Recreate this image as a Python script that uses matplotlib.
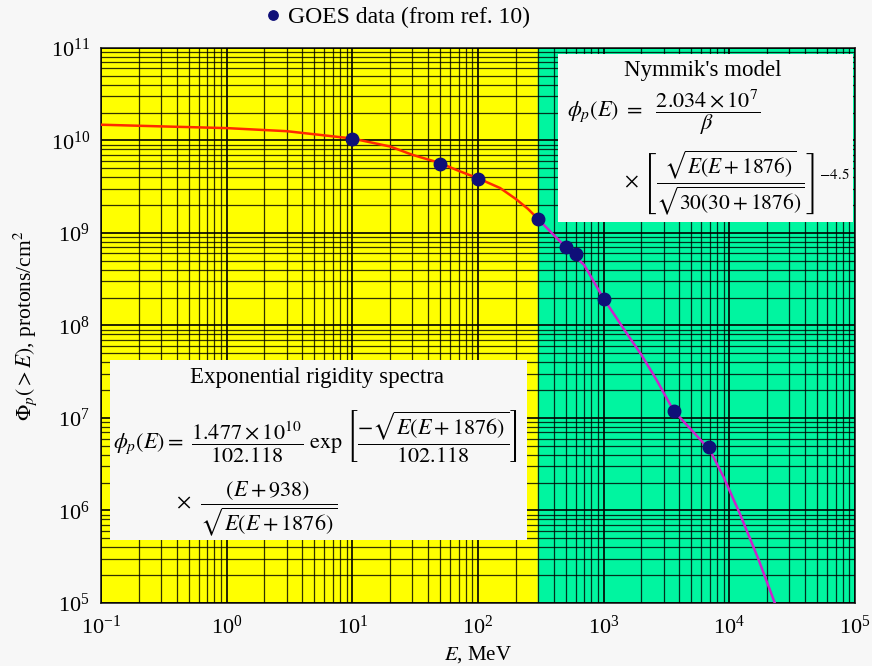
import matplotlib.pyplot as plt
from matplotlib.patches import Rectangle

plt.rcParams['font.family'] = ['Liberation Serif', 'DejaVu Serif']
plt.rcParams['mathtext.fontset'] = 'stix'

# GOES data points
goes_E = [10, 50, 100, 300, 500, 600, 1000, 3600, 6900]
goes_flux = [1.04e10, 5.6e9, 3.8e9, 1.42e9, 7.1e8, 5.9e8, 1.93e8, 1.19e7, 4.85e6]

# exponential rigidity spectrum curve (E < 300 MeV)
exp_E = [0.1, 0.3, 1, 3, 10, 20, 30, 50, 70, 100, 150, 200, 250, 300]
exp_flux = [1.48e10, 1.42e10, 1.36e10, 1.26e10, 1.05e10, 8.6e9, 7.0e9, 5.7e9,
            4.7e9, 3.9e9, 3.06e9, 2.33e9, 1.82e9, 1.42e9]

# Nymmik's model curve (E > 300 MeV)
nym_E = [300, 500, 700, 1000, 1500, 2000, 2640, 3600, 5000, 7000, 9000,
         12100, 17000, 23000]
nym_flux = [1.42e9, 7.0e8, 4.5e8, 1.95e8, 8.5e7, 4.8e7, 2.57e7, 1.2e7, 7.4e6,
            4.5e6, 2.3e6, 9.3e5, 3.0e5, 1.0e5]

x_ticks = [1e-1, 1e0, 1e1, 1e2, 1e3, 1e4, 1e5]
y_ticks = [1e5, 1e6, 1e7, 1e8, 1e9, 1e10, 1e11]

fig = plt.figure(figsize=(8.72, 6.66), dpi=100, facecolor='#f7f7f7')
ax = fig.add_axes([0.1158, 0.0946, 0.8647, 0.8334])

ax.set_xscale('log')
ax.set_yscale('log')
ax.set_xlim(1e-1, 1e5)
ax.set_ylim(1e5, 1e11)

ax.axvspan(1e-1, 300, color='#ffff00', zorder=0)
ax.axvspan(300, 1e5, color='#00f5a0', zorder=0)

ax.grid(True, which='major', color='black', lw=1.2, zorder=1)
ax.grid(True, which='minor', color='black', lw=0.9, alpha=0.8, zorder=1)
ax.set_axisbelow(False)

ax.plot(exp_E, exp_flux, color='#ff2a00', lw=1.8, zorder=3)
ax.plot(nym_E, nym_flux, color='#cc22cc', lw=1.8, zorder=3)
ax.plot(goes_E, goes_flux, 'o', color='#0f0f78', ms=9, zorder=4,
        label='GOES data (from ref. 10)')

ax.set_xticks(x_ticks)
ax.set_yticks(y_ticks)
ax.tick_params(which='both', length=0, labelsize=16, pad=9)
ax.tick_params(axis='y', pad=8)
for s in ax.spines.values():
    s.set_color('#202020')
    s.set_linewidth(1.2)

ax.set_xlabel(r'$E$, MeV', fontsize=15, labelpad=4)
ax.set_ylabel(r'$\Phi_p(>E)$, protons/cm$^2$', fontsize=15.5, labelpad=8)

ax.legend(loc='center', bbox_to_anchor=(0.455, 0.974), bbox_transform=fig.transFigure,
          frameon=False, fontsize=17, handletextpad=0.2, markerscale=0.75,
          handlelength=0.8)

# Nymmik's model box
ax.add_patch(Rectangle((0.606, 0.686), 0.391, 0.303, transform=ax.transAxes,
                       facecolor='#f7f7f7', edgecolor='none', zorder=5))
ax.text(0.798, 0.96, "Nymmik's model", transform=ax.transAxes, fontsize=16.5,
        ha='center', va='center', zorder=6)
ax.text(0.618, 0.883, r'$\phi_p(E)\ =\ \ \dfrac{2.034\times10^7}{\beta}$',
        transform=ax.transAxes, fontsize=16, ha='left', va='center', zorder=6)
ax.text(0.693, 0.758,
        r'$\times\ \left[\dfrac{\sqrt{E(E+1876)}}{\sqrt{30(30+1876)}}\right]^{-4.5}$',
        transform=ax.transAxes, fontsize=15.5, ha='left', va='center', zorder=6)

# exponential rigidity box
ax.add_patch(Rectangle((0.012, 0.1135), 0.553, 0.3245, transform=ax.transAxes,
                       facecolor='#f7f7f7', edgecolor='none', zorder=5))
ax.text(0.286, 0.406, 'Exponential rigidity spectra', transform=ax.transAxes,
        fontsize=16.5, ha='center', va='center', zorder=6)
ax.text(0.016, 0.30,
        r'$\phi_p(E)=\ \dfrac{1.477\times10^{10}}{102.118}\ \exp\,\left[\dfrac{-\sqrt{E(E+1876)}}{102.118}\right]$',
        transform=ax.transAxes, fontsize=16, ha='left', va='center', zorder=6)
ax.text(0.100, 0.17, r'$\times\ \ \dfrac{(E+938)}{\sqrt{E(E+1876)}}$',
        transform=ax.transAxes, fontsize=16, ha='left', va='center', zorder=6)

fig.savefig('out.png', dpi=100, facecolor=fig.get_facecolor())
